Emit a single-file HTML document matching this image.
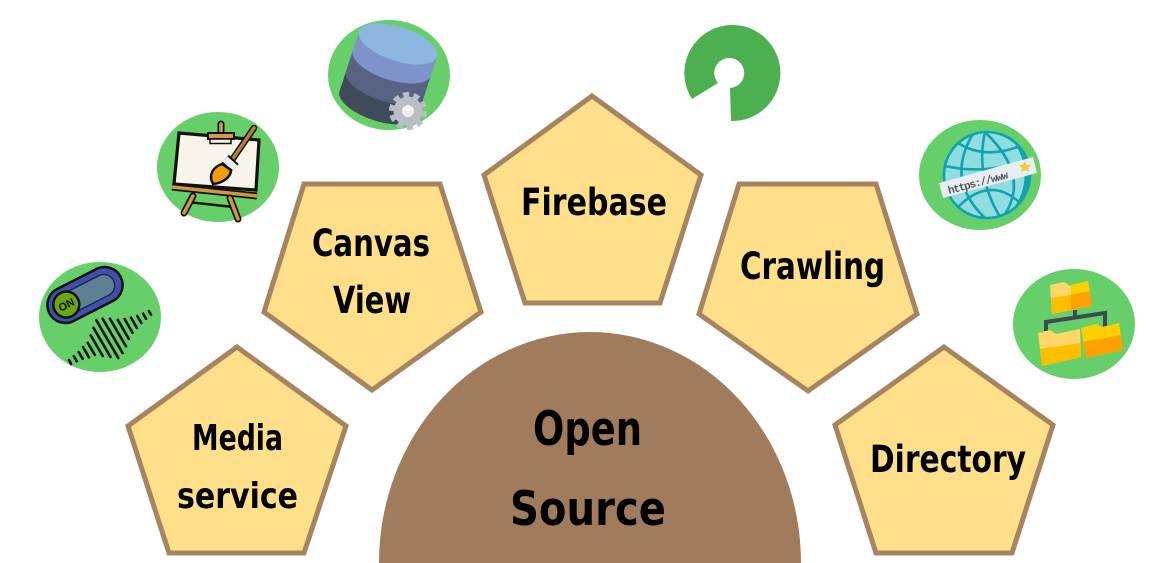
<!DOCTYPE html>
<html><head><meta charset="utf-8"><style>
html,body{margin:0;padding:0;background:#fff;width:1173px;height:563px;overflow:hidden}
svg{display:block}
.p{fill:#ffdf8a;stroke:#a5845f;stroke-width:5;stroke-linejoin:miter}
.t{font-family:"DejaVu Sans",sans-serif;font-weight:700;fill:#000;text-anchor:start}
.g{fill:#66cf6a}
</style></head><body>
<svg width="1173" height="563" viewBox="0 0 1173 563" xmlns="http://www.w3.org/2000/svg">
<rect width="1173" height="563" fill="#fff"/>
<path d="M379,563A211,231 0 0 1 801,563Z" fill="#a07b5c"/>
<polygon class="p" points="237,347 346,426 304,553 169,553 128,426"/>
<polygon class="p" points="372,390 481,312 440,184 304,184 264,312"/>
<polygon class="p" points="592,96 701,175 660,303 525,303 484,175"/>
<polygon class="p" points="808,391 917,314 876,184 739,184 699,314"/>
<polygon class="p" points="944,347 1053,425 1012,553 876,553 835,425"/>

<text class="t" x="192" y="450" font-size="36" textLength="91" lengthAdjust="spacingAndGlyphs">Media</text>
<text class="t" x="177" y="508" font-size="36" textLength="121" lengthAdjust="spacingAndGlyphs">service</text>
<text class="t" x="312" y="256" font-size="37" textLength="118" lengthAdjust="spacingAndGlyphs">Canvas</text>
<text class="t" x="333" y="313" font-size="37" textLength="78" lengthAdjust="spacingAndGlyphs">View</text>
<text class="t" x="521" y="215" font-size="37" textLength="146" lengthAdjust="spacingAndGlyphs">Firebase</text>
<text class="t" x="740" y="279" font-size="37" textLength="145" lengthAdjust="spacingAndGlyphs">Crawling</text>
<text class="t" x="870" y="472" font-size="37" textLength="156" lengthAdjust="spacingAndGlyphs">Directory</text>
<text class="t" x="533" y="445" font-size="47" textLength="109" lengthAdjust="spacingAndGlyphs">Open</text>
<text class="t" x="510" y="525" font-size="47" textLength="156" lengthAdjust="spacingAndGlyphs">Source</text>

<!-- media icon -->
<ellipse class="g" cx="100" cy="317" rx="61" ry="55"/>
<g transform="translate(85,295) rotate(-27)">
<rect x="-40" y="-18" width="80" height="36" rx="18" fill="#3f51b0" stroke="#111" stroke-width="2.5"/>
<rect x="-32" y="-11" width="64" height="22" rx="11" fill="#5f7f92" stroke="#1a2a55" stroke-width="1.5"/>
<circle cx="-21" cy="0" r="13" fill="#6ea516" stroke="#111" stroke-width="2.5"/>
<text x="-21" y="4" font-family="Liberation Sans,sans-serif" font-weight="700" font-size="11" text-anchor="middle" fill="#111">ON</text>
</g>
<path fill="none" stroke="#111" stroke-width="2.6" stroke-linecap="round" d="M69,360L71,364M73.8,356.1L76.8,361.3M78.7,352.1L82.7,358.9M83,347L89,357.4M87.8,342.9L94.8,354.9M90.7,335.4L102.7,356M93.5,327.8L110.5,357M96.3,320.2L118.3,358M102.6,318.6L122.6,353M110,318.8L126,346.4M117.8,319.8L128.8,338.8M124.6,319L132.6,332.9M131,317.6L137,328M137.3,316L141.3,323M143.1,313.6L146.1,318.8M149,311.3L151,314.7"/>

<!-- easel icon -->
<ellipse class="g" cx="218" cy="167" rx="61" ry="55"/>
<polygon points="179,133 259,140 256,190 174,184" fill="#f8f4ea" stroke="#111" stroke-width="3.2"/>
<line x1="221" y1="124" x2="221" y2="135" stroke="#111" stroke-width="7" stroke-linecap="round"/>
<line x1="221" y1="124" x2="221" y2="135" stroke="#d89a45" stroke-width="3.5" stroke-linecap="round"/>
<rect x="208" y="133" width="26" height="6" fill="#d89a45" stroke="#111" stroke-width="2"/>
<rect x="210" y="139" width="21" height="4.5" fill="#f8f4ea" stroke="#111" stroke-width="1.5"/>
<line x1="172" y1="187" x2="257" y2="196" stroke="#111" stroke-width="7"/>
<line x1="172" y1="187" x2="257" y2="196" stroke="#d3973f" stroke-width="3.5"/>
<line x1="188" y1="202" x2="233" y2="207" stroke="#111" stroke-width="2.5"/>
<line x1="193" y1="196" x2="184" y2="213" stroke="#111" stroke-width="7" stroke-linecap="round"/>
<line x1="193" y1="196" x2="184" y2="213" stroke="#d3973f" stroke-width="3.5" stroke-linecap="round"/>
<line x1="230" y1="198" x2="238" y2="219" stroke="#111" stroke-width="7" stroke-linecap="round"/>
<line x1="230" y1="198" x2="238" y2="219" stroke="#d3973f" stroke-width="3.5" stroke-linecap="round"/>
<line x1="254" y1="128" x2="232" y2="160" stroke="#111" stroke-width="6.5" stroke-linecap="round"/>
<line x1="254" y1="128" x2="232" y2="160" stroke="#b9803a" stroke-width="3.5" stroke-linecap="round"/>
<line x1="225" y1="159" x2="235" y2="168" stroke="#111" stroke-width="11"/>
<line x1="225" y1="159" x2="235" y2="168" stroke="#eee" stroke-width="7"/>
<path d="M222,164C213,167 208,175 213,184C223,183 231,177 231,170Z" fill="#f39c12" stroke="#111" stroke-width="2.5"/>

<!-- database icon -->
<ellipse class="g" cx="389" cy="75" rx="61" ry="55"/>
<g transform="translate(398,44) rotate(18)">
<path d="M-41,42V63A41,17 0 0 0 41,63V42Z" fill="#3f4a5a"/>
<path d="M-41,20V42A41,17 0 0 0 41,42V20Z" fill="#586383"/>
<path d="M-41,0V20A41,17 0 0 0 41,20V0Z" fill="#7d93c9"/>
<ellipse cx="0" cy="0" rx="41" ry="17" fill="#8cb6e0"/>
</g>
<circle cx="408" cy="111" r="14.5" fill="#b9bec4"/>
<circle cx="408" cy="111" r="16.5" fill="none" stroke="#b9bec4" stroke-width="5" stroke-dasharray="6 4.4"/>
<circle cx="408" cy="111" r="6" fill="#eceef0"/>

<!-- open source logo -->
<path fill="#4caf50" d="M692,99A48,48 0 1 1 731,121L730,88A15,15 0 1 0 718,83Z"/>

<!-- globe icon -->
<ellipse class="g" cx="980" cy="175" rx="61" ry="55"/>
<circle cx="987" cy="175" r="43" fill="#8fdde0"/>
<path d="M1012,140A43,43 0 0 1 1012,210A55,55 0 0 0 1012,140Z" fill="#11a3ad"/>
<g fill="none" stroke="#11a3ad" stroke-width="2.6">
<circle cx="987" cy="175" r="43"/>
<path d="M973,134Q945,180 985,218"/>
<path d="M985,132Q1030,175 1005,214"/>
<path d="M985,132Q975,175 1000,217"/>
<path d="M958,143Q985,160 1020,146"/>
<path d="M945,166Q985,175 1029,160"/>
<path d="M958,207Q990,175 1020,203"/>
</g>
<polygon points="939,183 1033,157 1037,173 943,198" fill="#e8edef"/>
<text x="949" y="194" transform="rotate(-15 949 194)" font-family="Liberation Mono,monospace" font-size="11" font-weight="700" fill="#555" textLength="62">https://www</text>
<polygon points="1025,161 1027,165 1031,165 1028,168 1029,172 1025,170 1021,172 1022,168 1019,165 1023,165" fill="#f5c842"/>

<!-- folders icon -->
<ellipse class="g" cx="1074" cy="324" rx="61" ry="55"/>
<path d="M1046,331V322L1105,313V327M1075,310V318" fill="none" stroke="#3c4a55" stroke-width="4"/>
<polygon points="1050,285 1064,282 1070,286 1088,281 1092,306 1052,314" fill="#ffd766"/>
<polygon points="1071,285 1088,281 1092,306 1071,310" fill="#ffd000"/>
<polygon points="1051,298 1071,295 1071,310 1052,314" fill="#ffbf00"/>
<polygon points="1071,295 1090,291 1092,306 1071,310" fill="#ff9f00"/>
<polygon points="1038,333 1050,330 1056,334 1080,329 1081,357 1042,366" fill="#ffd766"/>
<polygon points="1040,349 1081,343 1081,357 1042,366" fill="#ffbf00"/>
<polygon points="1081,328 1096,324 1102,327 1119,323 1123,350 1086,358" fill="#ffd000"/>
<polygon points="1083,342 1121,335 1123,350 1086,358" fill="#ff9f00"/>
</svg>
</body></html>
